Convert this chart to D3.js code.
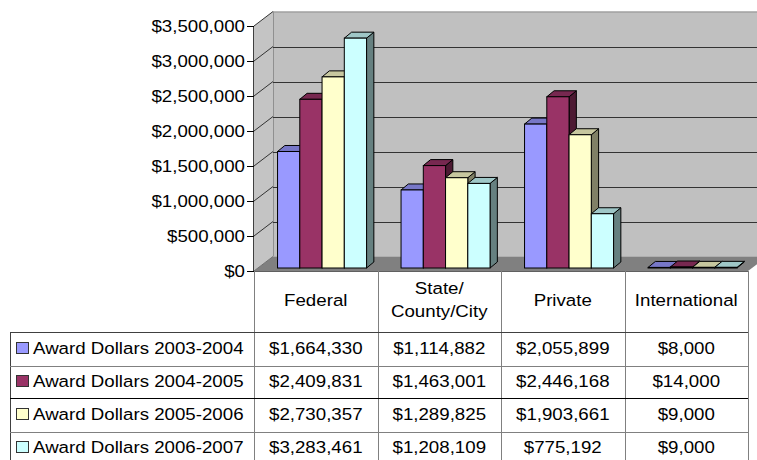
<!DOCTYPE html>
<html><head><meta charset="utf-8">
<script src="https://cdn.jsdelivr.net/npm/d3@7"></script>
<style>body{margin:0;background:#fff}svg{display:block}</style>
</head><body>
<script>
// ---- data ----
const categories = ["Federal", "State/County/City", "Private", "International"];
const categoryLines = [["Federal"], ["State/", "County/City"], ["Private"], ["International"]];
const seriesNames = ["Award Dollars 2003-2004", "Award Dollars 2004-2005", "Award Dollars 2005-2006", "Award Dollars 2006-2007"];
const values2003 = [1664330, 1114882, 2055899, 8000];
const values2004 = [2409831, 1463001, 2446168, 14000];
const values2005 = [2730357, 1289825, 1903661, 9000];
const values2006 = [3283461, 1208109, 775192, 9000];
const seriesColors = ["#9999FF", "#993366", "#FFFFCC", "#CCFFFF"];
const yTicks = [0, 500000, 1000000, 1500000, 2000000, 2500000, 3000000, 3500000];

const series = [values2003, values2004, values2005, values2006];

// ---- layout ----
const W = 757, H = 460;
const plotL = 254, plotR = 748, floorY = 271, topY = 26;
const wallDX = 19, wallDY = -14.5;
const barShiftX = 6.3, barShiftY = -3, barDX = 7.3, barDY = -6;
const FS = 17, SX = 1.1;
const FONT = "'Liberation Sans', Arial, sans-serif";
const tableRows = [332, 366, 398, 432, 464];

const svg = d3.select("body").append("svg").attr("width", W).attr("height", H);

const y = d3.scaleLinear().domain([0, 3500000]).range([floorY, topY]);
const x = d3.scaleBand().domain(categories).range([plotL, plotR]);
const xs = d3.scaleBand().domain(d3.range(series.length)).range([0, x.bandwidth()]).paddingOuter(0.775);
const fmt = v => "$" + d3.format(",")(v);

function txt(g, str, tx, ty, anchor) {
  g.append("text").attr("transform", `translate(${tx},${ty}) scale(${SX},1)`)
    .attr("text-anchor", anchor).attr("dy", "0.35em")
    .style("font-family", FONT).style("font-size", FS + "px").attr("fill", "#000").text(str);
}

// walls
const backL = plotL + wallDX, backR = plotR + wallDX;
svg.append("rect").attr("x", backL).attr("y", y(3500000) + wallDY)
  .attr("width", backR - backL).attr("height", y(0) - y(3500000)).attr("fill", "#C0C0C0");
svg.append("polygon").attr("points", [[plotL, y(3500000)], [backL, y(3500000) + wallDY], [backL, y(0) + wallDY], [plotL, y(0)]].join(" "))
  .attr("fill", "#C4C4C4");
svg.append("polygon").attr("points", [[plotL, y(0)], [backL, y(0) + wallDY], [backR, y(0) + wallDY], [plotR, y(0)]].join(" "))
  .attr("fill", "#808080");

// wall edges
svg.append("line").attr("x1", backL).attr("x2", backR).attr("y1", y(3500000) + wallDY + 0.5).attr("y2", y(3500000) + wallDY + 0.5)
  .attr("stroke", "#909090");
svg.append("line").attr("x1", backL + 0.5).attr("x2", backL + 0.5).attr("y1", y(3500000) + wallDY).attr("y2", y(0) + wallDY)
  .attr("stroke", "#909090");

// gridlines
const grid = svg.append("g");
yTicks.forEach(t => {
  if (t > 0 && t < 3500000) {
    grid.append("line").attr("x1", backL).attr("x2", backR).attr("y1", Math.round(y(t) + wallDY) + 0.5).attr("y2", Math.round(y(t) + wallDY) + 0.5)
      .attr("stroke", "#333").attr("stroke-width", 1.1);
  }
  grid.append("line").attr("x1", plotL).attr("y1", y(t)).attr("x2", backL).attr("y2", y(t) + wallDY)
    .attr("stroke", t === 0 ? "#707070" : "#333").attr("stroke-width", 1);
});

// y axis
const axis = svg.append("g");
axis.append("line").attr("x1", plotL - 0.5).attr("x2", plotL - 0.5).attr("y1", y(3500000)).attr("y2", y(0))
  .attr("stroke", "#404040");
yTicks.forEach(t => {
  axis.append("line").attr("x1", plotL - 7).attr("x2", plotL).attr("y1", Math.round(y(t)) + 0.5).attr("y2", Math.round(y(t)) + 0.5)
    .attr("stroke", "#000");
  txt(axis, fmt(t), 245, y(t), "end");
});

// bars
const shade = (c, k) => { const o = d3.rgb(c); return d3.rgb(o.r * k, o.g * k, o.b * k).toString(); };
const bars = svg.append("g").attr("stroke", "#000").attr("stroke-width", 1).attr("stroke-linejoin", "miter");
categories.forEach((cat, ci) => {
  series.forEach((vals, si) => {
    const w = xs.bandwidth();
    const x0 = x(cat) + xs(si) + barShiftX;
    const x1 = x0 + w;
    const bot = y(0) + barShiftY;
    const top = y(vals[ci]) + barShiftY;
    const col = seriesColors[si];
    bars.append("polygon").attr("points", [[x1, top], [x1 + barDX, top + barDY], [x1 + barDX, bot + barDY], [x1, bot]].join(" "))
      .attr("fill", shade(col, 0.5));
    bars.append("polygon").attr("points", [[x0, top], [x1, top], [x1 + barDX, top + barDY], [x0 + barDX, top + barDY]].join(" "))
      .attr("fill", shade(col, 0.78));
    bars.append("rect").attr("x", x0).attr("y", top).attr("width", w).attr("height", Math.max(0, bot - top))
      .attr("fill", col);
  });
});

// table
const tbl = svg.append("g");
const colEdges = [plotL].concat(categories.map(c => x(c) + x.bandwidth()));
tbl.append("line").attr("x1", plotL).attr("x2", plotR).attr("y1", floorY + 0.5).attr("y2", floorY + 0.5).attr("stroke", "#606060");
colEdges.forEach(cx => {
  tbl.append("line").attr("x1", Math.round(cx) + 0.5).attr("x2", Math.round(cx) + 0.5).attr("y1", floorY).attr("y2", H)
    .attr("stroke", "#808080");
});
tbl.append("line").attr("x1", 10.5).attr("x2", 10.5).attr("y1", tableRows[0]).attr("y2", H).attr("stroke", "#404040");
const rowStroke = ["#404040", "#808080", "#000", "#808080"];
tableRows.slice(0, 4).forEach((ry, i) => {
  tbl.append("line").attr("x1", 10).attr("x2", plotR).attr("y1", ry + 0.5).attr("y2", ry + 0.5).attr("stroke", rowStroke[i]);
});

// header
categories.forEach((cat, ci) => {
  const cx = x(cat) + x.bandwidth() / 2;
  const lines = categoryLines[ci];
  if (lines.length === 1) txt(tbl, lines[0], cx, 300, "middle");
  else { txt(tbl, lines[0], cx, 288.5, "middle"); txt(tbl, lines[1], cx, 311.5, "middle"); }
});

// rows
series.forEach((vals, si) => {
  const cy = (tableRows[si] + tableRows[si + 1]) / 2 - 1;
  tbl.append("rect").attr("x", 16.5).attr("y", Math.round(cy) - 5.5).attr("width", 12).attr("height", 11)
    .attr("fill", seriesColors[si]).attr("stroke", "#333");
  txt(tbl, seriesNames[si], 33, cy, "start");
  categories.forEach((cat, ci) => {
    txt(tbl, fmt(vals[ci]), x(cat) + x.bandwidth() / 2, cy, "middle");
  });
});
</script>
</body></html>
